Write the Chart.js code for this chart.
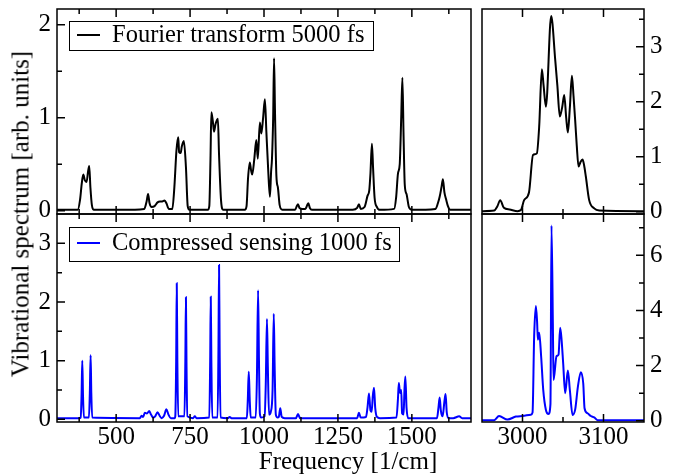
<!DOCTYPE html>
<html>
<head>
<meta charset="utf-8">
<script src="https://cdn.jsdelivr.net/npm/chart.js@4.4.0/dist/chart.umd.min.js"></script>
<style>
    html, body { margin: 0; padding: 0; background: #fff; }
    #wrap { position: relative; width: 676px; height: 474px; overflow: hidden; font-family: "Liberation Serif", "Times New Roman", serif; }
    canvas { position: absolute; }
    .title { position: absolute; font-size: 25px; line-height: 1; color: #000; white-space: nowrap; }
    #yTitle { left: 20px; top: 214px; transform: translate(-50%, -50%) rotate(-90deg); }
    #xTitle { left: 348px; top: 460px; transform: translate(-50%, -50%); }
</style>
</head>
<body>
<div id="wrap">
    <canvas id="ftLowChart" width="476" height="230" style="left:0;top:0"></canvas>
    <canvas id="csLowChart" width="476" height="262" style="left:0;top:212px"></canvas>
    <canvas id="ftHighChart" width="198" height="230" style="left:478px;top:0"></canvas>
    <canvas id="csHighChart" width="198" height="262" style="left:478px;top:212px"></canvas>
    <div class="title" id="yTitle">Vibrational spectrum [arb. units]</div>
    <div class="title" id="xTitle">Frequency [1/cm]</div>
</div>
<script>
"use strict";

// series names
var ftLabel = 'Fourier transform 5000 fs';
var csLabel = 'Compressed sensing 1000 fs';

// fourier transform, low frequency window
var ftLowFreq = [300, 370, 378, 384, 389, 394, 400, 405, 409, 413, 418, 425,
    520, 595, 603, 608, 613, 620, 630, 640, 648, 656, 664, 670, 678,
    690, 697, 704, 710, 713, 718, 722, 729, 736, 742, 748,
    810, 815, 819, 822, 827, 831, 836, 844, 848, 855, 862,
    935, 941, 946, 952, 956, 960, 967, 974, 979, 986, 991, 997, 1003, 1008, 1014, 1020, 1024, 1027, 1031, 1034, 1037, 1042, 1047, 1053, 1062,
    1105, 1111, 1115, 1120, 1130, 1140, 1146, 1150, 1155, 1162,
    1300, 1315, 1321, 1327, 1340, 1350, 1356, 1360, 1365, 1369, 1374, 1382, 1392,
    1440, 1447, 1453, 1459, 1464, 1468, 1472, 1476, 1482, 1490, 1500,
    1580, 1588, 1594, 1600, 1605, 1610, 1616, 1622, 1630, 1700];
var ftLowAmp = [0.01, 0.01, 0.12, 0.30, 0.39, 0.33, 0.31, 0.42, 0.48, 0.25, 0.06, 0.01,
    0.01, 0.02, 0.10, 0.18, 0.08, 0.04, 0.05, 0.09, 0.10, 0.10, 0.11, 0.08, 0.02,
    0.02, 0.26, 0.65, 0.79, 0.63, 0.62, 0.69, 0.75, 0.47, 0.05, 0.01,
    0.01, 0.05, 0.55, 1.06, 0.96, 0.85, 0.93, 0.99, 0.60, 0.10, 0.01,
    0.01, 0.05, 0.35, 0.52, 0.44, 0.39, 0.55, 0.76, 0.56, 0.95, 0.83, 1.00, 1.20, 0.85, 0.45, 0.15, 0.42, 0.56, 1.00, 1.64, 1.10, 0.37, 0.25, 0.06, 0.01,
    0.01, 0.05, 0.07, 0.03, 0.02, 0.02, 0.06, 0.08, 0.03, 0.01,
    0.01, 0.03, 0.07, 0.02, 0.04, 0.16, 0.22, 0.40, 0.72, 0.45, 0.14, 0.04, 0.01,
    0.02, 0.15, 0.40, 0.50, 1.00, 1.43, 0.80, 0.28, 0.18, 0.04, 0.01,
    0.02, 0.08, 0.15, 0.25, 0.34, 0.20, 0.12, 0.05, 0.01, 0.01];

// compressed sensing, low frequency window
var csLowFreq = [300, 375, 380, 383, 385.5, 388, 391, 408, 411, 413.7, 416, 419,
    580, 586, 591, 597, 604, 612, 618, 625, 632, 640, 647, 654, 662, 670, 677, 685,
    698, 700, 703, 705, 707, 710,
    731, 734, 736, 738, 741,
    760, 766, 772,
    815, 818, 820, 822, 825,
    843, 846, 848, 850, 853,
    878, 884, 890,
    942, 945, 948.5, 952, 955,
    972, 976, 980, 983, 986, 990,
    1002, 1006, 1010, 1013, 1017,
    1023, 1029, 1033, 1036, 1040, 1046,
    1050, 1055, 1060, 1070,
    1108, 1115, 1122,
    1315, 1321, 1327, 1345, 1350, 1355, 1360, 1364, 1368, 1372, 1376, 1382, 1392,
    1448, 1453, 1456, 1460, 1464, 1467, 1472, 1475, 1478, 1482, 1488,
    1585, 1590, 1594, 1598, 1604, 1610, 1614, 1618, 1625, 1640, 1660, 1670, 1700];
var csLowAmp = [0.02, 0.02, 0.03, 0.40, 1.00, 0.40, 0.03, 0.03, 0.45, 1.09, 0.45, 0.03,
    0.02, 0.06, 0.04, 0.11, 0.10, 0.14, 0.08, 0.03, 0.05, 0.12, 0.06, 0.02, 0.06, 0.17, 0.08, 0.02,
    0.02, 0.05, 1.00, 2.32, 1.00, 0.05,
    0.05, 1.00, 2.08, 0.90, 0.05,
    0.02, 0.05, 0.02,
    0.03, 1.00, 2.09, 1.00, 0.03,
    0.03, 1.20, 2.63, 1.20, 0.03,
    0.02, 0.04, 0.02,
    0.02, 0.30, 0.81, 0.30, 0.03,
    0.03, 0.70, 2.20, 1.00, 0.10, 0.03,
    0.05, 0.60, 1.71, 0.90, 0.08,
    0.13, 0.50, 1.80, 0.90, 0.08, 0.03,
    0.04, 0.19, 0.04, 0.02,
    0.02, 0.09, 0.02,
    0.02, 0.11, 0.03, 0.04, 0.20, 0.44, 0.15, 0.13, 0.40, 0.54, 0.20, 0.04, 0.02,
    0.03, 0.35, 0.62, 0.45, 0.50, 0.10, 0.08, 0.50, 0.73, 0.20, 0.02,
    0.02, 0.20, 0.37, 0.15, 0.05, 0.30, 0.43, 0.12, 0.02, 0.02, 0.05, 0.02, 0.02];

// fourier transform, C-H stretch window
var ftHighFreq = [2950, 2965, 2969, 2972.5, 2977, 2984, 2994, 2998, 3002, 3008, 3013, 3017.7, 3020.6, 3023.9, 3026, 3028.9,
    3035.4, 3040.4, 3043, 3046.1, 3049, 3051.5, 3054, 3056, 3058.5, 3061, 3063, 3065, 3067, 3069.2, 3071.5, 3074.1,
    3076, 3078.2, 3082.3, 3088.5, 3094.7, 3150];
var ftHighAmp = [0.01, 0.02, 0.10, 0.21, 0.07, 0.04, 0.01, 0.03, 0.21, 0.35, 1.03, 1.06, 1.55, 2.59, 2.30, 1.91,
    3.56, 2.76, 2.30, 1.73, 1.90, 2.12, 1.70, 1.44, 1.90, 2.47, 2.10, 1.67, 1.20, 0.82, 0.90, 0.95,
    0.85, 0.64, 0.21, 0.06, 0.02, 0.01];

// compressed sensing, C-H stretch window
var csHighFreq = [2950, 2965, 2971, 2981.5, 2991.8, 3000, 3010.3, 3012.4, 3014.4, 3016.5, 3018, 3019, 3020.6, 3023, 3025.6, 3028.9,
    3032.1, 3034.5, 3035.8, 3037.5, 3038.3, 3042, 3044.5, 3046.5, 3048.2, 3050.2, 3052.7, 3056, 3058.5, 3061.8, 3065, 3068.4,
    3072, 3075, 3076.6, 3080.3, 3084.4, 3088.5, 3092.6, 3150];
var csHighAmp = [0.02, 0.02, 0.17, 0.04, 0.15, 0.17, 0.22, 0.30, 3.07, 4.16, 3.60, 2.94, 3.19, 2.34, 1.12, 0.39,
    0.24, 0.60, 7.08, 3.50, 1.48, 2.34, 2.40, 3.37, 2.95, 2.09, 1.00, 1.82, 1.10, 0.21, 0.40, 1.24,
    1.76, 1.35, 0.45, 0.27, 0.17, 0.12, 0.02, 0.02];

// tick values
var lowFreqTicks = [500, 750, 1000, 1250, 1500];
var lowFreqMinor = [375, 625, 875, 1125, 1375, 1625];
var highFreqTicks = [3000, 3100];
var highFreqMinor = [3050];
var ftLowTicks = [0, 1, 2];
var ftLowMinor = [0.5, 1.5];
var csLowTicks = [0, 1, 2, 3];
var csLowMinor = [0.5, 1.5, 2.5];
var ftHighTicks = [0, 1, 2, 3];
var ftHighMinor = [0.5, 1.5, 2.5, 3.5];
var csHighTicks = [0, 2, 4, 6];
var csHighMinor = [1, 3, 5, 7];

Chart.defaults.font.family = "'Liberation Serif', 'Times New Roman', serif";
Chart.defaults.font.size = 25;
Chart.defaults.color = '#000';

//frame + inward ticks, xmgrace style
var frameTicks = {
    id: 'frameTicks',
    afterDraw: function (chart, args, o) {
        var c = chart.ctx, a = chart.chartArea;
        var sx = chart.scales.x, sy = chart.scales.y;
        c.save();
        c.strokeStyle = '#000';
        c.lineWidth = 1.5;
        c.beginPath();
        function xTick(v, len) {
            var px = sx.getPixelForValue(v);
            c.moveTo(px, a.top); c.lineTo(px, a.top + len);
            c.moveTo(px, a.bottom); c.lineTo(px, a.bottom - len);
        }
        function yTick(v, len) {
            var py = sy.getPixelForValue(v);
            if (o.ySide == 'left') {
                c.moveTo(a.left, py); c.lineTo(a.left + len, py);
            } else {
                c.moveTo(a.right, py); c.lineTo(a.right - len, py);
            }
        }
        o.xMajor.forEach(function (v) { xTick(v, 8); });
        o.xMinor.forEach(function (v) { xTick(v, 5); });
        o.yMajor.forEach(function (v) { yTick(v, 8); });
        o.yMinor.forEach(function (v) { yTick(v, 5); });
        c.stroke();
        c.strokeRect(a.left, a.top, a.right - a.left, a.bottom - a.top);
        c.restore();
    }
};

//boxed legend inside the plot
var boxLegend = {
    id: 'boxLegend',
    afterDraw: function (chart, args, o) {
        var c = chart.ctx, ds = chart.data.datasets[0];
        c.save();
        c.fillStyle = '#fff';
        c.fillRect(o.box[0], o.box[1], o.box[2] - o.box[0], o.box[3] - o.box[1]);
        c.strokeStyle = '#000';
        c.lineWidth = 1;
        c.strokeRect(o.box[0] + 0.5, o.box[1] + 0.5, o.box[2] - o.box[0], o.box[3] - o.box[1]);
        c.strokeStyle = ds.borderColor;
        c.lineWidth = 2;
        c.beginPath();
        c.moveTo(o.line[0], o.y);
        c.lineTo(o.line[1], o.y);
        c.stroke();
        c.fillStyle = '#000';
        c.font = "24.5px 'Liberation Serif', 'Times New Roman', serif";
        c.textBaseline = 'middle';
        c.textAlign = 'left';
        c.fillText(ds.label, o.textX, o.y + 1);
        c.restore();
    }
};

function toPoints(xs, ys) {
    var pts = [];
    for (var i = 0; i < xs.length; i++) {
        pts.push({ x: xs[i], y: ys[i] });
    }
    return pts;
}

function tickList(values) {
    return function (scale) {
        scale.ticks = values.map(function (v) { return { value: v }; });
    };
}

function makePanel(id, p) {
    var ctx = document.getElementById(id).getContext('2d');
    return new Chart(ctx, {
        type: 'line',
        data: {
            datasets: [{
                label: p.label,
                data: toPoints(p.freq, p.amp),
                borderColor: p.color,
                borderWidth: 2,
                pointRadius: 0,
                fill: false,
                cubicInterpolationMode: 'monotone'
            }]
        },
        options: {
            responsive: false,
            animation: false,
            devicePixelRatio: 1,
            layout: { padding: p.padding },
            plugins: {
                legend: { display: false },
                tooltip: { enabled: false },
                frameTicks: {
                    xMajor: p.xMajor, xMinor: p.xMinor,
                    yMajor: p.yMajor, yMinor: p.yMinor,
                    ySide: p.ySide
                },
                boxLegend: p.legend
            },
            scales: {
                x: {
                    type: 'linear',
                    min: p.xRange[0],
                    max: p.xRange[1],
                    display: p.showX,
                    grid: { display: false, drawTicks: false },
                    border: { display: false },
                    ticks: {
                        padding: 0,
                        maxRotation: 0,
                        autoSkip: false,
                        callback: function (v) { return String(v); }
                    },
                    afterBuildTicks: tickList(p.xMajor),
                    // hidden axis in the upper row takes no room
                    afterFit: function (s) {
                        s.height = p.showX ? 52 : 0;
                        s.paddingLeft = 0;
                        s.paddingRight = 0;
                    }
                },
                y: {
                    type: 'linear',
                    position: p.ySide,
                    min: p.yRange[0],
                    max: p.yRange[1],
                    grid: { display: false, drawTicks: false },
                    border: { display: false },
                    ticks: {
                        padding: 6,
                        callback: function (v) { return String(v); }
                    },
                    afterBuildTicks: tickList(p.yMajor),
                    // labels may overhang the plot, keep the area fixed
                    afterFit: function (s) {
                        s.width = p.yWidth;
                        s.paddingTop = 0;
                        s.paddingBottom = 0;
                    }
                }
            }
        },
        plugins: [frameTicks, boxLegend]
    });
}

// upper row: plot 9..214, lower row: plot 214..422 (page pixels)
makePanel('ftLowChart', {
    label: ftLabel, freq: ftLowFreq, amp: ftLowAmp, color: '#000',
    xRange: [300, 1700], yRange: [-0.035, 2.17],
    xMajor: lowFreqTicks, xMinor: lowFreqMinor, yMajor: ftLowTicks, yMinor: ftLowMinor,
    ySide: 'left', yWidth: 57, showX: false,
    padding: { top: 9, right: 5, bottom: 16, left: 0 },
    legend: { box: [69, 21, 373, 50], line: [77, 100], y: 35, textX: 112 }
});

makePanel('csLowChart', {
    label: csLabel, freq: csLowFreq, amp: csLowAmp, color: '#0000ff',
    xRange: [300, 1700], yRange: [-0.046, 3.5],
    xMajor: lowFreqTicks, xMinor: lowFreqMinor, yMajor: csLowTicks, yMinor: csLowMinor,
    ySide: 'left', yWidth: 57, showX: true,
    padding: { top: 2, right: 5, bottom: 0, left: 0 },
    legend: { box: [69, 15, 399, 49], line: [77, 100], y: 31, textX: 112 }
});

makePanel('ftHighChart', {
    label: ftLabel, freq: ftHighFreq, amp: ftHighAmp, color: '#000',
    xRange: [2950, 3150], yRange: [-0.042, 3.685],
    xMajor: highFreqTicks, xMinor: highFreqMinor, yMajor: ftHighTicks, yMinor: ftHighMinor,
    ySide: 'right', yWidth: 32, showX: false,
    padding: { top: 9, right: 0, bottom: 16, left: 4 },
    legend: false
});

makePanel('csHighChart', {
    label: csLabel, freq: csHighFreq, amp: csHighAmp, color: '#0000ff',
    xRange: [2950, 3150], yRange: [-0.047, 7.5],
    xMajor: highFreqTicks, xMinor: highFreqMinor, yMajor: csHighTicks, yMinor: csHighMinor,
    ySide: 'right', yWidth: 32, showX: true,
    padding: { top: 2, right: 0, bottom: 0, left: 4 },
    legend: false
});
</script>
</body>
</html>
